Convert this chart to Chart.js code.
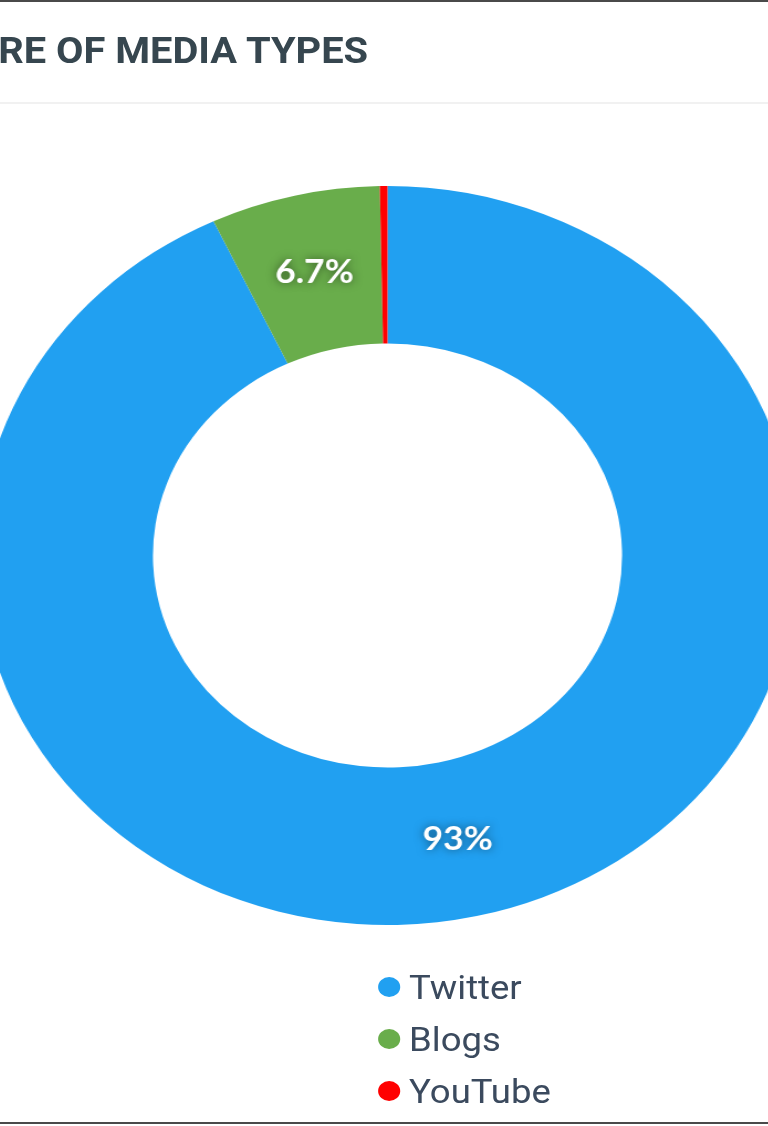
<!DOCTYPE HTML>
<html>

<head>
	<title>Share of Media Types</title>
	<meta charset="utf-8" />
	<script src="https://cdn.jsdelivr.net/npm/chart.js@4.4.0/dist/chart.umd.min.js"></script>
	<style>
		body {
			margin: 0;
			width: 768px;
			height: 1126px;
			overflow: hidden;
			background: #fff;
			position: relative;
		}

		.edge {
			position: absolute;
			left: 0;
			width: 768px;
			height: 2px;
			background: #4a4a4a;
		}

		#stage {
			position: absolute;
			left: 0;
			top: 0;
			width: 768px;
			height: 1126px;
			transform: scaleX(1.106);
			transform-origin: 387.5px 0;
		}

		#title {
			position: absolute;
			right: 398px;
			top: 33px;
			line-height: 36px;
			font-family: Roboto, sans-serif;
			font-weight: 700;
			font-size: 36px;
			color: #36464f;
			white-space: nowrap;
		}

		#rule {
			position: absolute;
			left: -100px;
			width: 1000px;
			top: 102px;
			height: 2px;
			background: #f1f1f1;
		}

		#wrap {
			position: absolute;
			left: 18px;
			top: 186px;
			width: 739px;
			height: 739px;
		}

		.item {
			position: absolute;
			left: 379px;
			height: 32px;
			display: flex;
			align-items: center;
			font-family: Roboto, sans-serif;
			font-size: 33px;
			color: #3b4a5e;
			white-space: nowrap;
		}

		.dot {
			width: 20px;
			height: 20px;
			border-radius: 50%;
			margin-right: 8px;
		}
	</style>
</head>

<body>
	<div class="edge" style="top:0px"></div>
	<div class="edge" style="top:1122px"></div>

	<div id="stage">
		<div id="title">SHARE OF MEDIA TYPES</div>
		<div id="rule"></div>
		<div id="wrap"><canvas id="donut"></canvas></div>
		<div id="legend"></div>
	</div>

	<script type="text/javascript">
		var labels = ["Twitter", "Blogs", "YouTube"]
		var shares = [93.0, 6.7, 0.3]
		var colors = ["#21a0f1", "#69ad4b", "#ff0000"]

		// percentage text on the slices
		var sliceLabels = {
			id: 'sliceLabels',
			afterDatasetsDraw: function (chart) {
				var ctx = chart.ctx
				var meta = chart.getDatasetMeta(0)
				var data = chart.data.datasets[0].data
				var total = data.reduce(function (a, b) { return a + b }, 0)
				ctx.save()
				ctx.font = "bold 32px Lato, sans-serif"
				ctx.textAlign = "center"
				ctx.textBaseline = "middle"
				ctx.fillStyle = "#fff"
				ctx.shadowColor = "rgba(0,0,0,0.5)"
				ctx.shadowBlur = 8
				for (var i = 0; i < data.length; i++) {
					var pct = data[i] / total * 100
					if (pct < 1) continue
					var txt = pct >= 10 ? Math.round(pct) + "%" : pct.toFixed(1) + "%"
					var p = meta.data[i].tooltipPosition()
					ctx.fillText(txt, p.x, p.y)
				}
				ctx.restore()
			}
		}

		var chart = new Chart(document.getElementById('donut'), {
			type: 'doughnut',
			data: {
				labels: labels,
				datasets: [{
					data: shares,
					backgroundColor: colors,
					borderWidth: 0
				}]
			},
			options: {
				responsive: true,
				maintainAspectRatio: false,
				animation: false,
				cutout: '57.4%',
				layout: { padding: 0 },
				plugins: {
					legend: { display: false },
					tooltip: { enabled: false }
				}
			},
			plugins: [sliceLabels]
		})

		// legend stacked under the chart
		var rowsY = [987, 1039, 1091]
		var legend = document.getElementById('legend')
		for (var i = 0; i < labels.length; i++) {
			legend.innerHTML += '<div class="item" style="top:' + (rowsY[i] - 16) + 'px"><span class="dot" style="background:' + colors[i] + '"></span>' + labels[i] + '</div>'
		}
	</script>
</body>

</html>
